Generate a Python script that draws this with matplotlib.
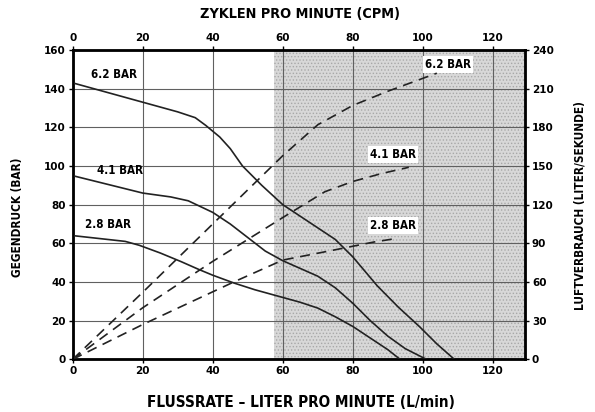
import numpy as np
import matplotlib.pyplot as plt

plt.rcParams['font.family'] = ['DejaVu Sans']
plt.rcParams['font.weight'] = 'bold'
plt.rcParams['font.stretch'] = 'condensed'
plt.rcParams['hatch.linewidth'] = 0.6

# Gegendruck (bar), solid curves: flow L/min -> back pressure
p62_x = [0, 10, 20, 30, 35, 38, 42, 45, 48.5, 54, 60, 65, 70, 75, 80, 87, 93, 99, 104, 109]
p62_y = [143, 138, 133, 128, 125, 121, 115, 109, 100, 90, 80, 74, 68, 62, 53, 38, 27, 17, 8, 0]
p41_x = [0, 10, 20, 28, 33, 40, 45, 50, 55, 60, 65, 70, 75, 80, 85, 90, 95, 101]
p41_y = [95, 90.5, 86, 84, 82, 76, 70, 63, 56, 51, 47, 43, 37, 29, 20, 12, 5.5, 0]
p28_x = [0, 10, 15, 19, 25, 31, 36, 40, 46, 52, 59, 65, 70, 75, 80, 85, 90, 93.5]
p28_y = [64, 62, 61, 59, 55, 50.5, 46.5, 43.5, 39.5, 36, 32.5, 29.5, 26.5, 22, 17, 11, 5, 0]

# Luftverbrauch (right axis units), dashed curves
a62_x = [0, 20, 40, 60, 70, 80, 90, 104]
a62_y = [0, 52, 105, 158, 182, 197, 208, 222]
a41_x = [0, 20, 40, 60, 72, 80, 88, 96]
a41_y = [0, 40, 76, 110, 130, 138, 144, 149]
a28_x = [0, 20, 46, 60, 75, 86, 93]
a28_y = [0, 27, 60, 77, 85, 91, 94]

xticks = [0, 20, 40, 60, 80, 100, 120]
yticks_left = [0, 20, 40, 60, 80, 100, 120, 140, 160]
yticks_right = [0, 30, 60, 90, 120, 150, 180, 210, 240]

fig = plt.figure(figsize=(5.95, 4.12), dpi=100)
ax = fig.add_axes([0.1222, 0.1279, 0.7602, 0.7507])
ax.set_xlim(0, 129.2)
ax.set_ylim(0, 160)

# shaded zone
ax.axvspan(57.5, 129.2, facecolor='#d8d8d8', hatch='.....', edgecolor='#a8a8a8', lw=0, zorder=0)

ax.set_xticks(xticks)
ax.set_yticks(yticks_left)
ax.grid(True, color='#606060', lw=0.8, zorder=1)

for s in ax.spines.values():
    s.set_linewidth(2)

ax.plot(p62_x, p62_y, color='#222222', lw=1.2, zorder=3)
ax.plot(p41_x, p41_y, color='#222222', lw=1.2, zorder=3)
ax.plot(p28_x, p28_y, color='#222222', lw=1.2, zorder=3)

ax2 = ax.twinx()
ax2.set_ylim(0, 240)
ax2.set_yticks(yticks_right)
for xs, ys in [(a62_x, a62_y), (a41_x, a41_y), (a28_x, a28_y)]:
    ax2.plot(xs, ys, color='#222222', lw=1.2, dashes=(6, 4), zorder=3)

ax3 = ax.twiny()
ax3.set_xlim(0, 129.2)
ax3.set_xticks(xticks)

for a in (ax, ax2, ax3):
    a.tick_params(labelsize=7.5, length=3, width=1, pad=2)
    for lab in a.get_xticklabels() + a.get_yticklabels():
        lab.set_fontstretch('normal')

ax.text(11.8, 147.5, '6.2 BAR', fontsize=8.3, ha='center', va='center')
ax.text(13.5, 97.5, '4.1 BAR', fontsize=8.3, ha='center', va='center')
ax.text(10, 69.5, '2.8 BAR', fontsize=8.3, ha='center', va='center')
box = dict(facecolor='white', edgecolor='none', pad=1.5)
ax.text(107.2, 152.5, '6.2 BAR', fontsize=8.3, ha='center', va='center', bbox=box, zorder=4)
ax.text(91.5, 105.8, '4.1 BAR', fontsize=8.3, ha='center', va='center', bbox=box, zorder=4)
ax.text(91.5, 69, '2.8 BAR', fontsize=8.3, ha='center', va='center', bbox=box, zorder=4)

fig.text(0.505, 0.966, 'ZYKLEN PRO MINUTE (CPM)', fontsize=10.4, ha='center', va='center')
fig.text(0.505, 0.022, 'FLUSSRATE – LITER PRO MINUTE (L/min)', fontsize=11, ha='center', va='center')
fig.text(0.03, 0.473, 'GEGENDRUCK (BAR)', fontsize=8.5, rotation=90, ha='center', va='center')
fig.text(0.974, 0.5, 'LUFTVERBRAUCH (LITER/SEKUNDE)', fontsize=8.5, rotation=90, ha='center', va='center')

fig.savefig('out.png', dpi=100)
